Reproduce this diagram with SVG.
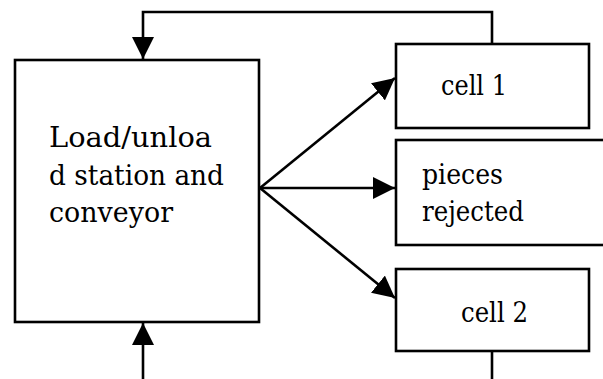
<svg xmlns="http://www.w3.org/2000/svg" width="603" height="379" viewBox="0 0 603 379">
<defs>
<style>
.box{fill:#fff;stroke:#000;stroke-width:2.6}
.ln{fill:none;stroke:#000;stroke-width:2.6}
.t{font-family:"DejaVu Serif","Liberation Serif",serif;font-size:27.5px;fill:#000}
</style>
<marker id="ah" markerUnits="userSpaceOnUse" markerWidth="22" markerHeight="22" viewBox="0 0 20 20" refX="20" refY="10" orient="auto">
<path d="M0,0 L20,10 L0,20 Z" fill="#000"/>
</marker>
</defs>
<rect width="603" height="379" fill="#fff"/>
<g id="conveyor">
<rect class="box" x="15" y="60" width="244" height="262"/>
<text class="t" x="49" y="147" textLength="163" lengthAdjust="spacingAndGlyphs">Load/unloa</text>
<text class="t" x="49" y="184.5" textLength="175" lengthAdjust="spacingAndGlyphs">d station and</text>
<text class="t" x="49" y="222" textLength="124" lengthAdjust="spacingAndGlyphs">conveyor</text>
</g>
<g id="cell1">
<rect class="box" x="396" y="44" width="193" height="84"/>
<text class="t" x="441" y="95" textLength="66" lengthAdjust="spacingAndGlyphs">cell 1</text>
</g>
<g id="rejected">
<rect class="box" x="396" y="140" width="215" height="105"/>
<text class="t" x="422" y="184" textLength="81" lengthAdjust="spacingAndGlyphs">pieces</text>
<text class="t" x="422" y="221" textLength="102" lengthAdjust="spacingAndGlyphs">rejected</text>
</g>
<g id="cell2">
<rect class="box" x="396" y="269" width="193" height="82"/>
<text class="t" x="461" y="322" textLength="67" lengthAdjust="spacingAndGlyphs">cell 2</text>
</g>
<g id="connectors">
<path class="ln" d="M492,44 V12 H143 V59" marker-end="url(#ah)"/>
<path class="ln" d="M143,379 V323" marker-end="url(#ah)"/>
<path class="ln" d="M492,351 V379"/>
<path class="ln" d="M260,188 L395,78" marker-end="url(#ah)"/>
<path class="ln" d="M260,188 L395,188" marker-end="url(#ah)"/>
<path class="ln" d="M260,188 L395,298" marker-end="url(#ah)"/>
</g>
</svg>
